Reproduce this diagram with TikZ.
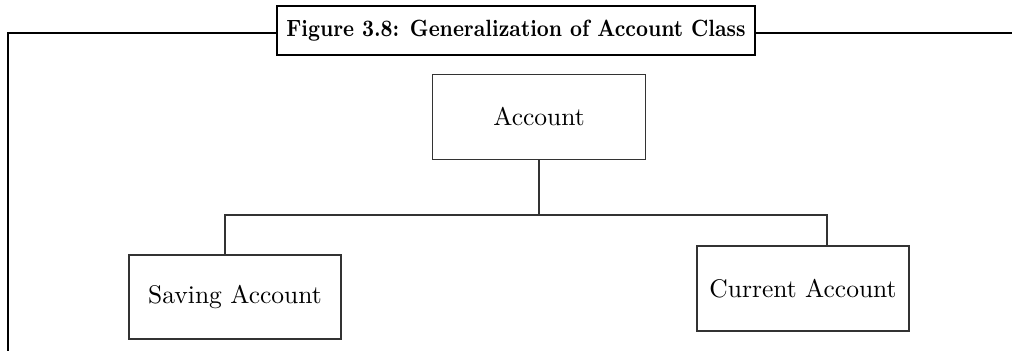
\documentclass[tikz,border=0pt]{standalone}
\usepackage{tikz}
\usepackage{graphicx}
\begin{document}
\begin{tikzpicture}[x=0.4pt,y=-0.4pt,
  box/.style={draw=black!80,line width=0.7pt,fill=white,inner sep=0pt},
  link/.style={draw=black!80,line width=0.7pt},
  frame/.style={draw=black,line width=1pt}]
\useasboundingbox (0,0) rectangle (1012,351);
% outer frame
\coordinate (fl) at (8,33);
\coordinate (fb) at (8,351);
\coordinate (fr) at (1012,33);
\node[box,draw=black,line width=1pt,minimum width=478*0.4pt,minimum height=49*0.4pt] (title) at (516,30.5)
  {\scalebox{0.86}[1]{\fontsize{9.4}{10}\selectfont\bfseries Figure 3.8: Generalization of Account Class}};
\draw[frame] (fb) -- (fl) -- (fl -| title.west);
\draw[frame] (fl -| title.east) -- (fr);
% nodes
\node[box,minimum width=213*0.4pt,minimum height=85*0.4pt] (acc) at (539,117) {\fontsize{10.2}{12}\selectfont Account};
\node[box,minimum width=212*0.4pt,minimum height=84*0.4pt] (sav) at (235,297) {\fontsize{10.2}{12}\selectfont Saving Account};
\node[box,minimum width=212*0.4pt,minimum height=85*0.4pt] (cur) at (803,288.5) {\fontsize{10.2}{12}\selectfont Current Account};
% connectors
\coordinate (j) at (acc.south |- 0,215);
\draw[link] (acc.south) -- (j);
\draw[link,line width=1.1pt] (sav.north -| 225,0) -- (225,215) -- (j);
\draw[link] (j) -- (827,215) -- (cur.north -| 827,0);
\end{tikzpicture}
\end{document}
